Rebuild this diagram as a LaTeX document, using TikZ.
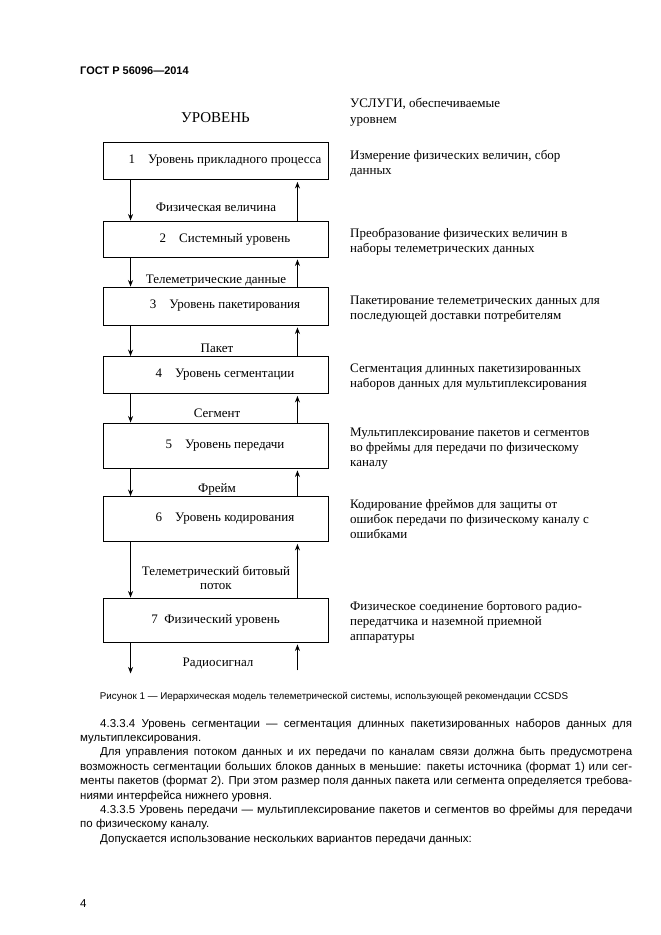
\documentclass[tikz,border=0pt]{standalone}
\usepackage{fontspec}
\setmainfont{Liberation Serif}
\newfontfamily\arialfont{Liberation Sans}
\usetikzlibrary{arrows.meta,positioning}

\newlength{\bodywd}
\setlength{\bodywd}{552pt}
\newcommand{\fullline}[1]{\hbox to \bodywd{#1}}
\newcommand{\indline}[1]{\hbox to \bodywd{\hspace*{20pt}#1}}
\newcommand{\lastline}[1]{\hbox{#1}}
\newcommand{\lastindline}[1]{\hbox{\hspace*{20pt}#1}}
\newcommand{\lvtext}[1]{\hspace*{19pt}#1}

\begin{document}
\begin{tikzpicture}[x=1pt, y=-1pt,
    level/.style={draw, line width=0.9pt, minimum width=225pt, inner sep=0pt,
                  font=\fontsize{13}{15}\selectfont},
    svc/.style={anchor=base west, align=left, inner sep=0pt,
                font=\fontsize{13}{15.3}\selectfont},
    flow/.style={align=center, inner sep=0pt, font=\fontsize{13}{13.5}\selectfont},
    head/.style={inner sep=0pt, font=\fontsize{13}{16.5}\selectfont},
    page/.style={anchor=base west, inner sep=0pt, font=\arialfont\fontsize{11.5}{14.4}\selectfont},
    dnarr/.style={-{Stealth[length=6.5pt,width=5pt]}, line width=0.9pt},
    uparr/.style={-{Stealth[length=6.5pt,width=5pt]}, line width=0.9pt},
  ]
    \useasboundingbox[fill=white] (0,0) rectangle (661,935);

    % Page header
    \node[page, font=\arialfont\bfseries\fontsize{11}{13}\selectfont] (gost) at (80,74) {ГОСТ Р 56096—2014};

    % Column headers
    \node[head, font=\fontsize{15}{16.5}\selectfont] (hlevel) at (215.5,118) {УРОВЕНЬ};
    \node[head, anchor=base west, align=left] (hsvc) at (350,123.5) {УСЛУГИ, обеспечиваемые\\уровнем};

    % Levels
    \node[level, minimum height=37pt] (l1) at (215.5,161) {\lvtext{1\quad Уровень прикладного процесса}};
    \node[level, minimum height=36pt] (l2) at (215.5,239) {\lvtext{2\quad Системный уровень}};
    \node[level, minimum height=38pt] (l3) at (215.5,306) {\lvtext{3\quad Уровень пакетирования}};
    \node[level, minimum height=37pt] (l4) at (215.5,375) {\lvtext{4\quad Уровень сегментации}};
    \node[level, minimum height=45pt] (l5) at (215.5,445.5) {\lvtext{5\quad Уровень передачи}};
    \node[level, minimum height=45pt] (l6) at (215.5,519) {\lvtext{6\quad Уровень кодирования}};
    \node[level, minimum height=44pt] (l7) at (215.5,620) {7\enspace Физический уровень};

    % Services (anchored at the last line)
    \node[svc] (svc1) at (350,174.3) {Измерение физических величин, сбор\\данных};
    \node[svc] (svc2) at (350,252.3) {Преобразование физических величин в\\наборы телеметрических данных};
    \node[svc] (svc3) at (350,319.3) {Пакетирование телеметрических данных для\\последующей доставки потребителям};
    \node[svc] (svc4) at (350,387.3) {Сегментация длинных пакетизированных\\наборов данных для мультиплексирования};
    \node[svc] (svc5) at (350,466.6) {Мультиплексирование пакетов и сегментов\\во фреймы для передачи по физическому\\каналу};
    \node[svc] (svc6) at (350,538.6) {Кодирование фреймов для защиты от\\ошибок передачи по физическому каналу с\\ошибками};
    \node[svc] (svc7) at (350,640.6) {Физическое соединение бортового радио-\\передатчика и наземной приемной\\аппаратуры};

    % Data between levels
    \node[flow] (f12) at (216,207) {Физическая величина};
    \node[flow] (f23) at (216,281) {Телеметрические данные};
    \node[flow] (f34) at (217,348) {Пакет};
    \node[flow] (f45) at (217,413) {Сегмент};
    \node[flow] (f56) at (217,489) {Фрейм};
    \node[flow] (f67) at (216,578) {Телеметрический битовый\\поток};
    \node[flow] (f7) at (218,663) {Радиосигнал};

    % Arrows down / up
    \foreach \a/\b in {l1/l2, l2/l3, l3/l4, l4/l5, l5/l6, l6/l7} {
      \draw[dnarr] ([xshift=28pt]\a.south west) -- ([xshift=28pt]\b.north west);
      \draw[uparr] ([xshift=-31pt]\b.north east) -- ([xshift=-31pt, yshift=-2pt]\a.south east);
    }
    \coordinate (out7) at ([xshift=28pt, yshift=-31pt]l7.south west);
    \coordinate (in7) at ([xshift=-31pt, yshift=-28pt]l7.south east);
    \draw[dnarr] ([xshift=28pt]l7.south west) -- (out7);
    \draw[uparr] (in7) -- ([xshift=-31pt, yshift=-2pt]l7.south east);

    % Caption
    \node[page, anchor=base, font=\arialfont\fontsize{9.8}{12}\selectfont] (cap) at (334,699)
      {Рисунок 1 — Иерархическая модель телеметрической системы, использующей рекомендации CCSDS};

    % Body text
    \node[page] (body) at (80,727) {\vtop{\baselineskip=14.4pt
      \indline{4.3.3.4 Уровень сегментации — сегментация длинных пакетизированных наборов данных для}
      \lastline{мультиплексирования.}
      \indline{Для управления потоком данных и их передачи по каналам связи должна быть предусмотрена}
      \fullline{возможность сегментации больших блоков данных в меньшие: пакеты источника (формат 1) или сег-}
      \fullline{менты пакетов (формат 2). При этом размер поля данных пакета или сегмента определяется требова-}
      \lastline{ниями интерфейса нижнего уровня.}
      \indline{4.3.3.5 Уровень передачи — мультиплексирование пакетов и сегментов во фреймы для передачи}
      \lastline{по физическому каналу.}
      \lastindline{Допускается использование нескольких вариантов передачи данных:}}};

    % Page number
    \node[page] (pnum) at (80,907) {4};
\end{tikzpicture}
\end{document}
